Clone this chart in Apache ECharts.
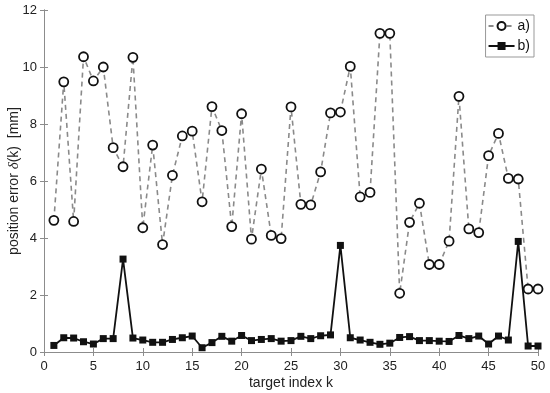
<!DOCTYPE html>
<html><head><meta charset="utf-8">
<script src="https://cdn.jsdelivr.net/npm/echarts@6/dist/echarts.min.js"></script>
<style>html,body{margin:0;padding:0;background:#fff}#c{width:550px;height:393px}</style>
</head><body><div id="c"></div>
<script>
const kIndex = Array.from({length:50},(_,i)=>i+1);
const seriesA = [4.62,9.48,4.58,10.36,9.51,10.0,7.17,6.5,10.34,4.36,7.26,3.77,6.2,7.58,7.75,5.27,8.61,7.77,4.4,8.36,3.96,6.42,4.09,3.98,8.6,5.18,5.16,6.32,8.39,8.42,10.02,5.44,5.6,11.18,11.18,2.06,4.55,5.22,3.07,3.07,3.89,8.97,4.32,4.19,6.89,7.67,6.09,6.07,2.21,2.21];
const seriesB = [0.23,0.5,0.49,0.36,0.28,0.47,0.47,3.26,0.49,0.42,0.34,0.34,0.44,0.5,0.56,0.15,0.33,0.55,0.38,0.58,0.4,0.44,0.47,0.38,0.4,0.55,0.47,0.57,0.6,3.74,0.5,0.42,0.34,0.27,0.31,0.51,0.54,0.4,0.4,0.38,0.37,0.58,0.47,0.56,0.28,0.56,0.42,3.88,0.21,0.21];
const xTicks = [0,5,10,15,20,25,30,35,40,45,50];
const yTicks = [0,2,4,6,8,10,12];
const names = ['a)','b)'];

const chart = echarts.init(document.getElementById('c'));
const font = 'Liberation Sans, Arial, sans-serif';
const axisLine = {show:true, lineStyle:{color:'#8c8c8c', width:1}};
const tick = {show:true, inside:true, length:4, lineStyle:{color:'#8c8c8c'}};
chart.setOption({
  animation:false,
  backgroundColor:'#fff',
  grid:{left:44, right:12, top:10, bottom:41, containLabel:false, outerBoundsMode:'none'},
  legend:{
    right:16, top:15, orient:'vertical', itemGap:6,
    data:names, backgroundColor:'#fff', borderColor:'#999', borderWidth:1, padding:[4,4,4,2],
    itemWidth:26, itemHeight:10,
    textStyle:{fontFamily:font, fontSize:14, color:'#111', padding:[0,0,0,-2]}
  },
  xAxis:[{
    type:'value', min:0, max:50, interval:5,
    name:'target index k', nameLocation:'middle', nameGap:24, nameMoveOverlap:false,
    nameTextStyle:{fontFamily:font, fontSize:14, color:'#222'},
    axisLine, axisTick:tick, splitLine:{show:false},
    axisLabel:{fontFamily:font, fontSize:13, color:'#222', margin:8}
  },{
    type:'value', min:0, max:50, interval:5, position:'top',
    axisLine, axisTick:tick, axisLabel:{show:false}, splitLine:{show:false}
  }],
  yAxis:[{
    type:'value', min:0, max:12, interval:2,
    name:'position error {i|δ}(k)  [mm]', nameLocation:'middle', nameGap:22, nameMoveOverlap:false,
    nameTextStyle:{fontFamily:font, fontSize:14, color:'#222',
      rich:{i:{fontFamily:'Liberation Serif, serif', fontStyle:'italic', fontSize:15, color:'#222'}}},
    axisLine, axisTick:tick, splitLine:{show:false},
    axisLabel:{fontFamily:font, fontSize:13, color:'#222', margin:7}
  },{
    type:'value', min:0, max:12, interval:2, position:'right',
    axisLine, axisTick:tick, axisLabel:{show:false}, splitLine:{show:false}
  }],
  series:[{
    name:names[0], type:'line',
    data:kIndex.map((k,i)=>[k,seriesA[i]]),
    symbol:'circle', symbolSize:9,
    lineStyle:{color:'#8a8a8a', width:1.6, type:[5,4]},
    itemStyle:{color:'#fff', borderColor:'#111', borderWidth:1.8},
    z:2
  },{
    name:names[1], type:'line',
    data:kIndex.map((k,i)=>[k,seriesB[i]]),
    symbol:'rect', symbolSize:7,
    lineStyle:{color:'#111', width:1.8},
    itemStyle:{color:'#111'},
    z:3
  }]
});
</script></body></html>
